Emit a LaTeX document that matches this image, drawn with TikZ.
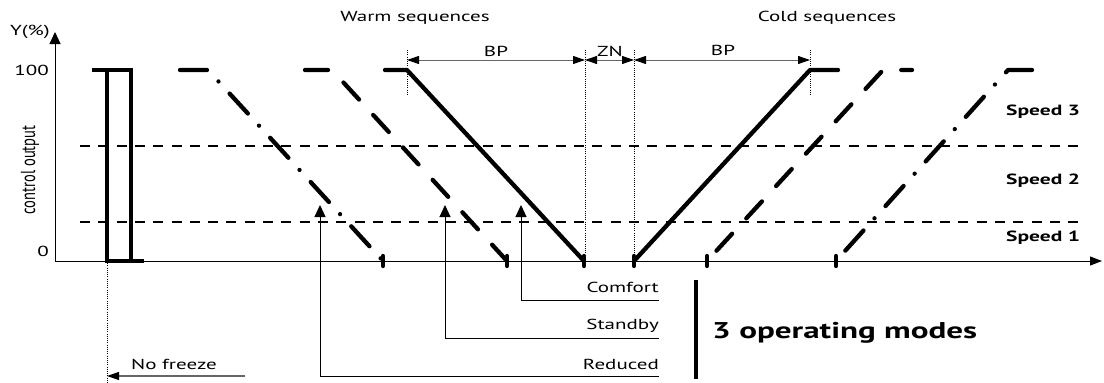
\documentclass[tikz,border=0pt]{standalone}
\usepackage{fontspec}
\setmainfont{PT Sans}[FakeStretch=1.45]
\newfontfamily\rotfont{PT Sans}
\usetikzlibrary{arrows.meta}
\begin{document}
\begin{tikzpicture}[x=1pt,y=-1pt,
  curve/.style={line width=4.3pt, line cap=round, line join=bevel},
  dashc/.style={curve, dash pattern=on 23pt off 21pt},
  dotc/.style={curve, dash pattern=on 27pt off 16.5pt on 0pt off 16.5pt},
  endtick/.style={line width=4.3pt, line cap=round},
  pulse/.style={line width=4.4pt, line cap=butt, line join=miter},
  level/.style={line width=1.2pt, dash pattern=on 10pt off 8.3pt},
  axis/.style={line width=1pt},
  guide/.style={line width=0.7pt, dash pattern=on 1pt off 1.2pt},
  dim/.style={line width=0.9pt, draw=black!60, {Triangle[length=12pt,width=8pt,color=black]}-{Triangle[length=12pt,width=8pt,color=black]}},
  modearrow/.style={line width=1pt, -{Triangle[length=12pt,width=11pt]}},
  lbl/.style={inner sep=0pt, font=\fontsize{14.5}{16}\selectfont},
  blbl/.style={inner sep=0pt, font=\fontsize{14.8}{16}\selectfont\bfseries},
]
\useasboundingbox (0,0) rectangle (1104,383);

% axes
\coordinate (O) at (55,261);
\coordinate (Ytip) at (55,32);
\coordinate (Xtip) at (1102,261);
\draw[axis, -{Triangle[length=12pt,width=11pt]}] (O) -- (Ytip);
\draw[axis, -{Triangle[length=12pt,width=9pt]}] (O) -- (Xtip);
\node[lbl, anchor=east] (ylab) at (50,32) {Y(\%)};
\node[lbl, anchor=east] (l100) at (49,70) {100};
\node[lbl, anchor=east] (l0) at (49,251) {0};
\node[inner sep=0pt, rotate=90] (cout) at (30,170) {\scalebox{1}[1.4]{\rotfont\fontsize{14.5}{16}\selectfont control output}};

% speed levels
\coordinate (L1a) at (80,146); \coordinate (L1b) at (1078,146);
\coordinate (L2a) at (80,222); \coordinate (L2b) at (1078,222);
\draw[level] (L1a) -- (L1b);
\draw[level] (L2a) -- (L2b);
\node[blbl, anchor=west] (s3) at (1006,112) {Speed 3};
\node[blbl, anchor=west] (s2) at (1006,181) {Speed 2};
\node[blbl, anchor=west] (s1) at (1006,238) {Speed 1};

% no freeze pulse
\coordinate (P1) at (92,70); \coordinate (P2) at (131,70);
\coordinate (P3) at (131,261); \coordinate (P4) at (144,261);
\coordinate (P5) at (107,70); \coordinate (P6) at (107,261);
\draw[pulse] (P1) -- (P2) -- (P3) -- (P4);
\draw[pulse] (P5) -- (P6) -- (P3);
\coordinate (NFb) at (107,383);
\draw[guide] (P6) -- (NFb);
\coordinate (NFs) at (245,376); \coordinate (NFe) at (107,376);
\draw[line width=1.1pt, draw=black!60, -{Triangle[length=12pt,width=8pt,color=black]}] (NFs) -- (NFe);
\node[lbl, anchor=west] (nf) at (131,364) {No freeze};

% warm sequences
\coordinate (WRa) at (180,70); \coordinate (WRb) at (208,70); \coordinate (WRc) at (383,261);
\coordinate (WSa) at (305,70); \coordinate (WSb) at (332,70); \coordinate (WSc) at (507,261);
\coordinate (WCa) at (385,70); \coordinate (WCb) at (407,70); \coordinate (WCc) at (584,261);
\draw[dotc] (WRa) -- (WRb) -- (WRc);
\draw[dashc] (WSa) -- (WSb) -- (WSc);
\draw[curve] (WCa) -- (WCb) -- (WCc);
\foreach \p in {WRc,WSc,WCc}{\draw[endtick] ([yshift=-5pt]\p) -- ([yshift=5pt]\p);}

% cold sequences
\coordinate (CCa) at (634,261); \coordinate (CCb) at (810,70); \coordinate (CCc) at (838,70);
\coordinate (CSa) at (707,261); \coordinate (CSb) at (883,70); \coordinate (CSc) at (912,70);
\coordinate (CRa) at (836,261); \coordinate (CRb) at (1008,70); \coordinate (CRc) at (1036,70);
\draw[curve] (CCa) -- (CCb) -- (CCc);
\draw[dashc, dash phase=30pt] (CSa) -- (CSb) -- (CSc);
\draw[dotc, dash phase=46pt] (CRa) -- (CRb) -- (CRc);
\foreach \p in {CCa,CSa,CRa}{\draw[endtick] ([yshift=-5pt]\p) -- ([yshift=5pt]\p);}

% dimension guides
\coordinate (G1t) at (407,50); \coordinate (G1b) at (407,96);
\coordinate (G2t) at (585,50); \coordinate (G2b) at (585,261);
\coordinate (G3t) at (634,50); \coordinate (G3b) at (634,261);
\coordinate (G4t) at (810,50); \coordinate (G4b) at (810,96);
\foreach \g in {1,2,3,4}{\draw[guide] (G\g t) -- (G\g b);}
\coordinate (D1) at (407,60); \coordinate (D2) at (585,60);
\coordinate (D3) at (634,60); \coordinate (D4) at (810,60);
\draw[dim] (D1) -- (D2);
\draw[dim] (D2) -- (D3);
\draw[dim] (D3) -- (D4);
\node[lbl] (bp1) at (496,51) {BP};
\node[lbl] (zn) at (610,51) {ZN};
\node[lbl] (bp2) at (723,50) {BP};
\node[lbl] (warm) at (415,18) {Warm sequences};
\node[lbl] (cold) at (827,18) {Cold sequences};

% operating modes
\coordinate (Mc1) at (659,300); \coordinate (Mc2) at (521,300); \coordinate (Mc3) at (521,205);
\coordinate (Ms1) at (659,338); \coordinate (Ms2) at (445,338); \coordinate (Ms3) at (445,205);
\coordinate (Mr1) at (659,376); \coordinate (Mr2) at (320,376); \coordinate (Mr3) at (320,205);
\draw[modearrow] (Mc1) -- (Mc2) -- (Mc3);
\draw[modearrow] (Ms1) -- (Ms2) -- (Ms3);
\draw[modearrow] (Mr1) -- (Mr2) -- (Mr3);
\node[lbl, anchor=east] (comfort) at (659,287) {Comfort};
\node[lbl, anchor=east] (standby) at (659,326) {Standby};
\node[lbl, anchor=east] (reduced) at (659,364) {Reduced};
\coordinate (Bt) at (696,280); \coordinate (Bb) at (696,379);
\draw[line width=4.5pt] (Bt) -- (Bb);
\node[inner sep=0pt, anchor=west, font=\fontsize{22.8}{26}\selectfont\bfseries] (modes) at (712,333) {3 operating modes};
\end{tikzpicture}
\end{document}
